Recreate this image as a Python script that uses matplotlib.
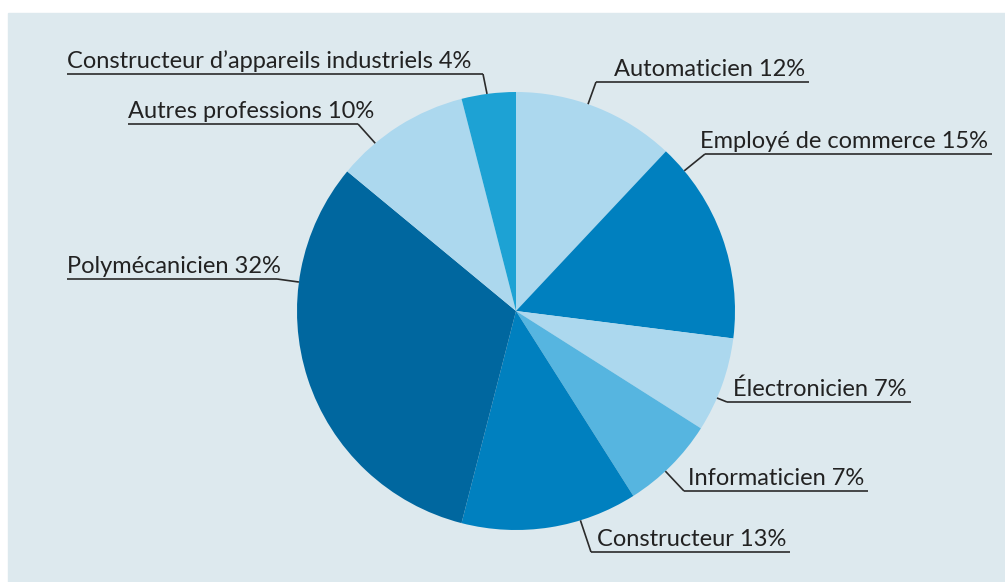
import numpy as np
import matplotlib.pyplot as plt
from matplotlib.patches import Rectangle

# data: share of apprentices per profession (clockwise from top)
professions = ["Automaticien", "Employé de commerce", "Électronicien", "Informaticien",
               "Constructeur", "Polymécanicien", "Autres professions",
               "Constructeur d’appareils industriels"]
shares = [12, 15, 7, 7, 13, 32, 10, 4]
colors = ["#acd8ee", "#0080bf", "#acd8ee", "#56b5e0",
          "#0080bf", "#00679f", "#acd8ee", "#1da2d4"]

W, H = 1005, 582
fig = plt.figure(figsize=(W / 100, H / 100), dpi=100, facecolor="white")
ax = fig.add_axes([0, 0, 1, 1])


def py(y):
    # pixel row (from top) -> data y
    return H - y


# light panel behind the chart
ax.add_patch(Rectangle((8, 0), W - 8, H - 13, color="#dde9ee", zorder=0))

cx, cy, r = 516, 311, 219
ax.pie(shares, colors=colors, startangle=90, counterclock=False,
       center=(cx, py(cy)), radius=r, frame=True,
       wedgeprops=dict(linewidth=0, antialiased=True))
ax.set_xlim(0, W)
ax.set_ylim(0, H)
ax.set_aspect("equal")
ax.axis("off")

# label layout: angle of leader on pie edge (deg clockwise from top),
# join point of leader/underline, text left x, side
layout = [
    (19.2, 596, 82, 614, "r"),
    (50.2, 705, 154, 700, "r"),
    (113.4, 727, 402, 733, "r"),
    (137.0, 684, 491, 688, "r"),
    (162.9, 591, 552, 597, "r"),
    (277.6, 277, 279, 67, "l"),
    (320.0, 358, 124, 128, "l"),
    (352.4, 483, 74, 67, "l"),
]

font = ["Lato", "DejaVu Sans"]
fig.canvas.draw()
renderer = fig.canvas.get_renderer()
line_kw = dict(color="#2b2b2b", lw=1.2, solid_capstyle="butt", zorder=5)

for name, val, (ang, jx, jy, tx, side) in zip(professions, shares, layout):
    t = ax.text(tx, py(jy - 6), f"{name} {val}%", ha="left", va="baseline",
                fontsize=17, color="#222222", family=font, zorder=6)
    bb = t.get_window_extent(renderer)
    a = np.deg2rad(ang)
    ex, ey = cx + r * np.sin(a), cy - r * np.cos(a)
    ax.plot([ex, jx], [py(ey), py(jy)], **line_kw)
    if side == "r":
        ax.plot([jx, bb.x1 + 4], [py(jy), py(jy)], **line_kw)
    else:
        ax.plot([bb.x0, jx], [py(jy), py(jy)], **line_kw)

fig.savefig("out.png", dpi=100, facecolor="white")
